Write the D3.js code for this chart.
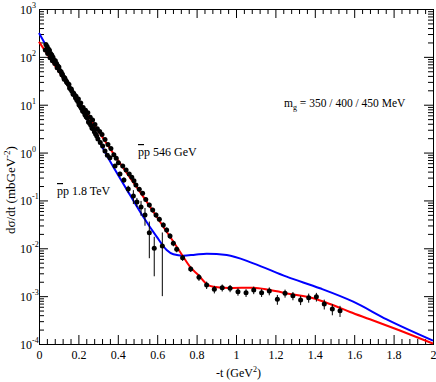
<!DOCTYPE html>
<html>
<head>
<meta charset="utf-8">
<script src="https://cdn.jsdelivr.net/npm/d3@7"></script>
<style>
  body { margin: 0; background: #fff; }
  text { font-family: "Liberation Serif", "Times New Roman", serif; fill: #000; }
</style>
</head>
<body>
<div id="my_dataviz"></div>
<script>
// ---- data ----
// model curves (red = 546 GeV, blue = 1.8 TeV)
var redT  = [0, 0.208, 0.411, 0.529, 0.631, 0.699, 0.732, 0.766, 0.809, 0.851, 0.885, 0.970, 1.088, 1.173, 1.274, 1.392, 1.477, 1.579, 1.680, 1.832, 2.0];
var redV  = [207, 10.7, 0.60, 0.12, 0.0282, 0.0108, 0.00667, 0.00412, 0.00277, 0.00179, 0.00157, 0.00148, 0.0015, 0.00134, 0.00111, 0.000902, 0.000685, 0.000467, 0.000328, 0.000191, 0.000102];
var blueT = [0, 0.208, 0.360, 0.462, 0.529, 0.597, 0.648, 0.682, 0.732, 0.792, 0.851, 0.953, 1.088, 1.257, 1.426, 1.595, 1.765, 2.0];
var blueV = [315, 9.4, 0.667, 0.130, 0.0457, 0.0175, 0.0092, 0.00748, 0.0070, 0.00735, 0.0077, 0.00724, 0.00485, 0.00255, 0.00146, 0.000766, 0.000328, 0.000118];

// pbar-p 546 GeV data
var t546 = [0.032, 0.044, 0.056, 0.068, 0.080, 0.092, 0.104, 0.116, 0.128, 0.140, 0.152, 0.164, 0.176, 0.188, 0.200,
            0.212, 0.224, 0.236, 0.248, 0.260, 0.272, 0.284, 0.296, 0.308, 0.320, 0.335, 0.350, 0.365, 0.380, 0.392,
            0.403, 0.425, 0.442, 0.458, 0.471, 0.482, 0.492, 0.509, 0.526, 0.542, 0.560, 0.577, 0.594, 0.611, 0.631,
            0.648, 0.665, 0.682, 0.699, 0.729, 0.770, 0.812, 0.851, 0.890, 0.930, 0.970, 1.010, 1.051, 1.090, 1.130,
            1.169, 1.210, 1.249, 1.289, 1.328, 1.369, 1.408, 1.448, 1.489, 1.528];
var v546 = [139, 117, 95.5, 83.2, 72.4, 59.2, 51.3, 42.1, 33.9, 29.9, 26.3, 21.3, 17.4, 15.1, 13.2,
            10.8, 8.7, 7.66, 6.76, 5.44, 4.79, 3.87, 3.16, 2.75, 2.40, 1.87, 1.48, 1.22, 0.90, 0.76,
            0.614, 0.524, 0.432, 0.356, 0.304, 0.258, 0.210, 0.171, 0.141, 0.105, 0.080, 0.063, 0.0496, 0.0403, 0.0306,
            0.0241, 0.0181, 0.0127, 0.00953, 0.00635, 0.00369, 0.00248, 0.00171, 0.00139, 0.00150, 0.00146, 0.00124, 0.00118, 0.00134, 0.00118,
            0.00128, 0.00086, 0.00115, 0.00102, 0.00083, 0.00093, 0.00097, 0.000686, 0.000538, 0.000497];
var e546 = [0, 0, 0, 0, 0, 0, 0, 0, 0, 0, 0, 0, 0, 0, 0,
            0, 0, 0, 0, 0, 0, 0, 0, 0, 0, 0, 0, 0, 0, 0,
            0.05, 0.04, 0.035, 0.03, 0.025, 0.02, 0.02, 0.016, 0.014, 0.011, 0.009, 0.007, 0.006, 0.005, 0.004,
            0.003, 0.0024, 0.0017, 0.0013, 0.0009, 0.0005, 0.0004, 0.0003, 0.00025, 0.00025, 0.00025, 0.00022, 0.00022, 0.00024, 0.00022,
            0.00024, 0.0002, 0.00022, 0.0002, 0.00018, 0.0002, 0.0002, 0.00016, 0.00014, 0.00013];

// pbar-p 1.8 TeV data
var t18 = [0.035, 0.047, 0.059, 0.071, 0.083, 0.095, 0.107, 0.119, 0.131, 0.143, 0.155, 0.167, 0.179, 0.191, 0.203,
           0.215, 0.227, 0.239, 0.251, 0.263, 0.275, 0.287, 0.299, 0.311, 0.323, 0.335, 0.347, 0.360,
           0.386, 0.411, 0.431, 0.453, 0.479, 0.497, 0.518, 0.538, 0.560, 0.585, 0.626];
var v18 = [182, 148, 117, 98.4, 83.2, 65.3, 51.3, 43.4, 36.3, 28.8, 22.4, 19.1, 16.2, 12.7, 10.0,
           8.41, 7.08, 5.58, 4.37, 3.71, 3.16, 2.45, 1.91, 1.63, 1.38, 1.08, 0.881, 0.78,
           0.524, 0.356, 0.267, 0.173, 0.124, 0.0927, 0.0728, 0.0496, 0.0212, 0.0100, 0.0112];
var e18 = [0, 0, 0, 0, 0, 0, 0, 0, 0, 0, 0, 0, 0, 0, 0,
           0, 0, 0, 0, 0, 0, 0, 0, 0, 0, 0, 0, 0.06,
           0.05, 0.04, 0.035, 0.03, 0.04, 0.02, 0.025, 0.02, 0.015, 0.0074, 0.0102];
// the dense small-t 1.8 TeV run (thick black band at the top)
var t18small = [0.041, 0.053, 0.065, 0.077, 0.089, 0.101, 0.113, 0.125, 0.137, 0.149, 0.161,
                0.173, 0.185, 0.197, 0.209, 0.221, 0.233, 0.245, 0.257, 0.269, 0.281, 0.293];
var v18small = [164, 138, 109, 85, 72.4, 61.7, 48.1, 38, 31.9, 26.9, 21.1,
                16.6, 14.0, 11.7, 9.31, 7.41, 6.18, 5.25, 4.10, 3.24, 2.72, 2.22];

var xMajor = [0, 0.2, 0.4, 0.6, 0.8, 1, 1.2, 1.4, 1.6, 1.8, 2];
var xLabels = ["0", "0.2", "0.4", "0.6", "0.8", "1", "1.2", "1.4", "1.6", "1.8", "2"];
var yMajor = [1e-4, 1e-3, 1e-2, 1e-1, 1e0, 1e1, 1e2, 1e3];
var yExp = ["-4", "-3", "-2", "-1", "0", "1", "2", "3"];

// set the dimensions and margins of the graph
var margin = {top: 9, right: 3, bottom: 38, left: 39},
    width = 436 - margin.left - margin.right,
    height = 382 - margin.top - margin.bottom;

var root = d3.select("#my_dataviz")
  .append("svg")
    .attr("width", width + margin.left + margin.right)
    .attr("height", height + margin.top + margin.bottom);
var svg = root.append("g")
    .attr("transform", "translate(" + margin.left + "," + margin.top + ")");

var x = d3.scaleLinear().domain([0, 2]).range([0, width]);
var y = d3.scaleLog().domain([1e-4, 1e3]).range([height, 0]);

// minor tick positions
var xMinor = d3.range(0, 2.0001, 0.04).filter(function(d) {
  return Math.abs(d / 0.2 - Math.round(d / 0.2)) > 1e-6;
});
var yMinor = [];
yMajor.slice(0, -1).forEach(function(p) {
  for (var k = 2; k <= 9; k++) yMinor.push(p * k);
});

function tidy(g) {
  g.select(".domain").remove();
  g.selectAll(".tick line").attr("stroke", "#000");
}

// bottom / top axes
svg.append("g").attr("transform", "translate(0," + height + ")")
  .call(d3.axisBottom(x).tickValues(xMinor).tickSize(-5).tickFormat("")).call(tidy);
svg.append("g").attr("transform", "translate(0," + height + ")")
  .call(d3.axisBottom(x).tickValues(xMajor).tickSize(-9).tickPadding(6)
    .tickFormat(function(d, i) { return xLabels[i]; }))
  .call(tidy)
  .selectAll("text").style("font-size", "12px");
svg.append("g")
  .call(d3.axisTop(x).tickValues(xMinor).tickSize(-5).tickFormat("")).call(tidy);
svg.append("g")
  .call(d3.axisTop(x).tickValues(xMajor).tickSize(-9).tickFormat("")).call(tidy);

// left / right axes
svg.append("g").call(d3.axisLeft(y).tickValues(yMinor).tickSize(-5).tickFormat("")).call(tidy);
svg.append("g").call(d3.axisLeft(y).tickValues(yMajor).tickSize(-9).tickFormat("")).call(tidy);
svg.append("g").attr("transform", "translate(" + width + ",0)")
  .call(d3.axisRight(y).tickValues(yMinor).tickSize(-5).tickFormat("")).call(tidy);
svg.append("g").attr("transform", "translate(" + width + ",0)")
  .call(d3.axisRight(y).tickValues(yMajor).tickSize(-9).tickFormat("")).call(tidy);

// y tick labels 10^n
yMajor.forEach(function(d, i) {
  var t = svg.append("text")
    .attr("x", -19)
    .attr("y", y(d) + 5)
    .style("font-size", "12px")
    .text("10");
  t.append("tspan")
    .attr("dy", -6)
    .style("font-size", "8px")
    .text(yExp[i]);
});

// frame
svg.append("rect")
  .attr("x", 0.5).attr("y", 0.5)
  .attr("width", width).attr("height", height)
  .attr("fill", "none").attr("stroke", "#000");

// curves
var line = d3.line()
  .x(function(d) { return x(d[0]); })
  .y(function(d) { return y(d[1]); })
  .curve(d3.curveMonotoneX);

svg.append("path")
  .datum(d3.zip(blueT, blueV))
  .attr("d", line)
  .attr("fill", "none").attr("stroke", "#0000ff").attr("stroke-width", 2);
svg.append("path")
  .datum(d3.zip(redT, redV))
  .attr("d", line)
  .attr("fill", "none").attr("stroke", "#ff0000").attr("stroke-width", 2);

// data points with error bars
function drawPoints(ts, vs, es) {
  var pts = d3.zip(ts, vs, es || ts.map(function() { return 0; }));
  var g = svg.append("g");
  g.selectAll("line.err")
    .data(pts.filter(function(d) { return d[2] > 0; }))
    .enter()
    .append("line")
      .attr("x1", function(d) { return x(d[0]); })
      .attr("x2", function(d) { return x(d[0]); })
      .attr("y1", function(d) { return y(d[1] + d[2]); })
      .attr("y2", function(d) { return y(Math.max(d[1] - d[2], 1.01e-4)); })
      .attr("stroke", "#000").attr("stroke-width", 1);
  g.selectAll("circle")
    .data(pts)
    .enter()
    .append("circle")
      .attr("cx", function(d) { return x(d[0]); })
      .attr("cy", function(d) { return y(d[1]); })
      .attr("r", 2.5)
      .style("fill", "#000");
}
drawPoints(t546, v546, e546);
drawPoints(t18, v18, e18);
drawPoints(t18small, v18small);

// annotations
function pbarp(xp, yp, rest) {
  var t = svg.append("text").attr("x", xp).attr("y", yp).style("font-size", "12px");
  t.append("tspan").style("text-decoration", "overline").text("p");
  t.append("tspan").text("p " + rest);
}
pbarp(99, 147, "546 GeV");
pbarp(18, 186, "1.8 TeV");

var mg = svg.append("text").attr("x", 245).attr("y", 98).style("font-size", "11.5px");
mg.append("tspan").text("m");
mg.append("tspan").attr("dy", 3).style("font-size", "8px").text("g");
mg.append("tspan").attr("dy", -3).text(" = 350 / 400 / 450 MeV");

// X axis label
var xl = root.append("text")
  .attr("x", 216).attr("y", 377)
  .style("font-size", "12px")
  .text("-t (GeV");
xl.append("tspan").attr("dy", -5).style("font-size", "8px").text("2");
xl.append("tspan").attr("dy", 5).text(")");

// Y axis label
var yl = root.append("text")
  .attr("text-anchor", "middle")
  .attr("transform", "translate(15,190) rotate(-90)")
  .style("font-size", "13px")
  .text("d\u03c3/dt (mbGeV");
yl.append("tspan").attr("dy", -5).style("font-size", "9px").text("-2");
yl.append("tspan").attr("dy", 5).text(")");
</script>
</body>
</html>
